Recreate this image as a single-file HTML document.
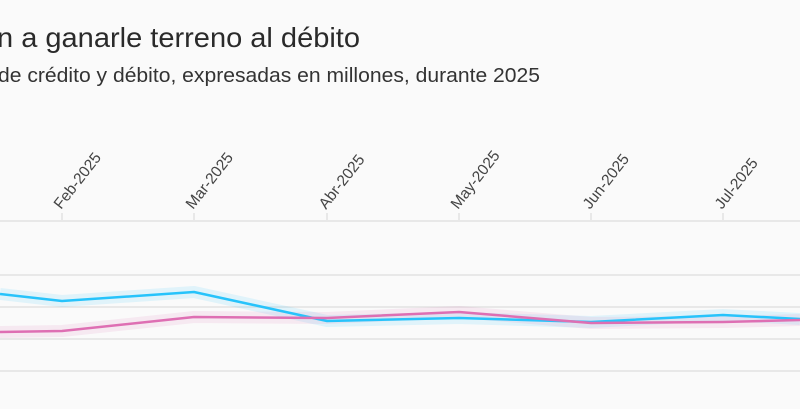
<!DOCTYPE html>
<html><head><meta charset="utf-8"><style>
body{margin:0;width:800px;height:409px;background:#fafafa;overflow:hidden;font-family:"Liberation Sans",sans-serif}
</style></head><body>
<svg width="800" height="409" xmlns="http://www.w3.org/2000/svg" style="position:absolute;left:0;top:0">
<text x="-3" y="47" font-size="28" fill="#2a2a2a" textLength="363" lengthAdjust="spacingAndGlyphs" font-family="Liberation Sans, sans-serif">n a ganarle terreno al débito</text>
<text x="-2" y="82" font-size="20" fill="#333" textLength="542" lengthAdjust="spacingAndGlyphs" font-family="Liberation Sans, sans-serif">de crédito y débito, expresadas en millones, durante 2025</text>
<g stroke="#e8e8e8" stroke-width="2">
<line x1="0" y1="221" x2="800" y2="221"/><line x1="0" y1="275" x2="800" y2="275"/>
<line x1="0" y1="307" x2="800" y2="307"/><line x1="0" y1="339" x2="800" y2="339"/>
<line x1="0" y1="371" x2="800" y2="371"/>
<line x1="62" y1="213" x2="62" y2="221"/><line x1="194" y1="213" x2="194" y2="221"/>
<line x1="327" y1="213" x2="327" y2="221"/><line x1="459" y1="213" x2="459" y2="221"/>
<line x1="591" y1="213" x2="591" y2="221"/><line x1="723" y1="213" x2="723" y2="221"/>
</g>
<g font-size="15.5" fill="#444" font-family="Liberation Sans, sans-serif">
<text transform="translate(61,210) rotate(-52)">Feb-2025</text>
<text transform="translate(193,210) rotate(-52)">Mar-2025</text>
<text transform="translate(326,210) rotate(-52)">Abr-2025</text>
<text transform="translate(458,210) rotate(-52)">May-2025</text>
<text transform="translate(590,210) rotate(-52)">Jun-2025</text>
<text transform="translate(722,210) rotate(-52)">Jul-2025</text>
</g>
<g fill="none" stroke-linejoin="round">
<polyline points="0,294 62,301 194,292 327,321 459,318 591,322 723,315 800,319" stroke="#27c3fb" stroke-opacity="0.12" stroke-width="12"/>
<polyline points="0,332 62,331 194,317 327,318 459,312 591,323 723,322 800,320" stroke="#e070b4" stroke-opacity="0.12" stroke-width="12"/>
<polyline points="0,294 62,301 194,292 327,321 459,318 591,322 723,315 800,319" stroke="#27c3fb" stroke-width="2.5"/>
<polyline points="0,332 62,331 194,317 327,318 459,312 591,323 723,322 800,320" stroke="#de6fb3" stroke-width="2.5"/>
</g>
</svg>
</body></html>
